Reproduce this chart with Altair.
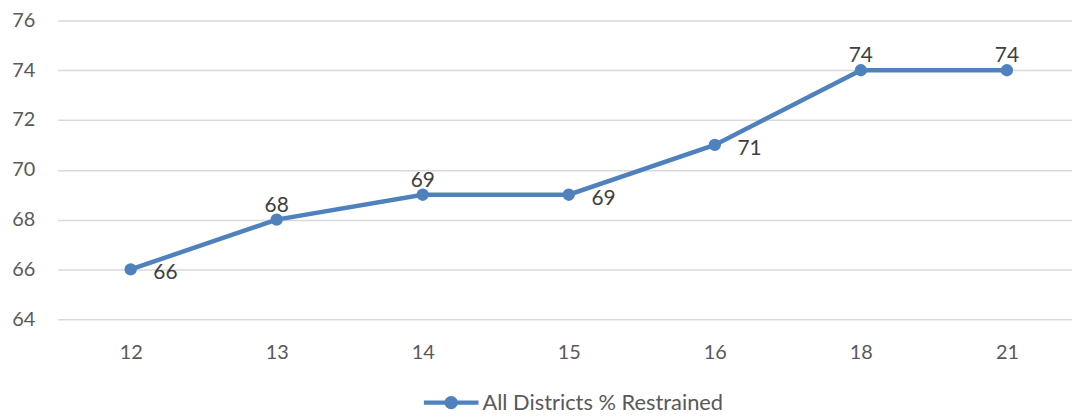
import altair as alt
import pandas as pd

categories = ["12", "13", "14", "15", "16", "18", "21"]
values = [66, 68, 69, 69, 71, 74, 74]
series_name = "All Districts % Restrained"
labels_right = ["12", "15", "16"]
labels_above = ["13", "14", "18", "21"]
y_ticks = [64, 66, 68, 70, 72, 74, 76]

df = pd.DataFrame({
    "idx": list(range(len(categories))),
    "cat": categories,
    "val": values,
    "series": [series_name] * len(categories),
})

BLUE = "#4F81BD"
FONT = "Lato"

cat_array = "[" + ",".join("'%s'" % c for c in categories) + "]"

x_enc = alt.X("idx:Q", title=None,
              scale=alt.Scale(domain=[-0.5, 6.4458], nice=False, zero=False),
              axis=alt.Axis(values=list(range(len(categories))),
                            labelExpr=cat_array + "[datum.value]",
                            labelFont=FONT, labelFontSize=20, labelColor="#595959",
                            domain=False, ticks=False, tickSize=0, labelPadding=24, grid=False,
                            labelFlush=False, labelOverlap=False))
y_enc = alt.Y("val:Q", title=None,
              scale=alt.Scale(domain=[64, 76], nice=False, zero=False),
              axis=alt.Axis(values=y_ticks, labelFont=FONT, labelFontSize=20, labelColor="#595959",
                            domain=False, ticks=False, tickSize=0, labelPadding=23,
                            gridColor="#D9D9D9", gridWidth=1.5))

base = alt.Chart(df)

line = base.mark_line(color=BLUE, strokeWidth=4.5).encode(x=x_enc, y=y_enc)

legend_path = ("M-2.5,-0.2H2.5V0.2H-2.5Z "
               "M-0.61,0A0.61,0.61 0 1,1 0.61,0A0.61,0.61 0 1,1 -0.61,0Z")

points = base.mark_circle(size=154, opacity=1).encode(
    x=x_enc, y=y_enc,
    color=alt.Color("series:N", scale=alt.Scale(range=[BLUE]),
                    legend=alt.Legend(title=None, orient="none", legendX=385.5, legendY=374,
                                      symbolType=legend_path, symbolSize=484,
                                      symbolStrokeWidth=0, symbolOpacity=1,
                                      labelOffset=20.5, labelFont=FONT, labelFontSize=22,
                                      labelLimit=600,
                                      labelColor="#595959", padding=0)),
)

txt_right = base.mark_text(align="center", baseline="middle", dx=35, dy=4,
                           font=FONT, fontSize=21, color="#404040").encode(
    x=x_enc, y=y_enc, text="val:Q"
).transform_filter(alt.FieldOneOfPredicate(field="cat", oneOf=labels_right))

txt_above = base.mark_text(align="center", baseline="middle", dx=0, dy=-14,
                           font=FONT, fontSize=21, color="#404040").encode(
    x=x_enc, y=y_enc, text="val:Q"
).transform_filter(alt.FieldOneOfPredicate(field="cat", oneOf=labels_above))

chart = alt.layer(line, points, txt_right, txt_above).properties(
    width=1022, height=301,
    autosize=alt.AutoSizeParams(type="none"),
    padding={"left": 50, "top": 11, "right": 0, "bottom": 97},
    background="white",
).configure_view(stroke=None).configure_legend(labelFont=FONT)

chart.save("out.html", embed_options={"renderer": "svg", "actions": False})
